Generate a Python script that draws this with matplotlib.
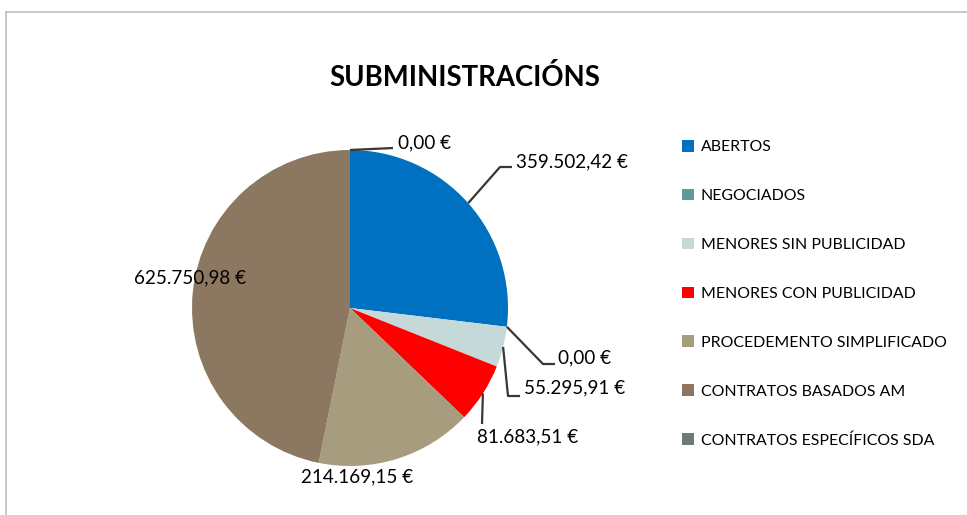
import matplotlib
matplotlib.use("Agg")
import matplotlib.pyplot as plt
from matplotlib.lines import Line2D
import numpy as np

categories = ["ABERTOS", "NEGOCIADOS", "MENORES SIN PUBLICIDAD", "MENORES CON PUBLICIDAD",
              "PROCEDEMENTO SIMPLIFICADO", "CONTRATOS BASADOS AM", "CONTRATOS ESPECÍFICOS SDA"]
values = [359502.42, 0.00, 55295.91, 81683.51, 214169.15, 625750.98, 0.00]
labels = ["359.502,42 €", "0,00 €", "55.295,91 €", "81.683,51 €",
          "214.169,15 €", "625.750,98 €", "0,00 €"]
colors = ["#0070C0", "#5F9A97", "#C4D9D8", "#FF0000", "#A89C7E", "#8C7860", "#6D7B73"]

FONT = "Lato"
W, H = 967, 515
fig = plt.figure(figsize=(W / 100, H / 100), dpi=100)

# border (top & left visible)
fig.add_artist(Line2D([6 / W, 1], [1 - 12 / H, 1 - 12 / H], transform=fig.transFigure, color="#BFBFBF", lw=1.2))
fig.add_artist(Line2D([6 / W, 6 / W], [0, 1 - 12 / H], transform=fig.transFigure, color="#BFBFBF", lw=1.2))

cx, cy, r = 350, 308, 158
ax = fig.add_axes([(cx - r) / W, (H - cy - r) / H, 2 * r / W, 2 * r / H])
wedges, _ = ax.pie(values, colors=colors, startangle=90, counterclock=False,
                   wedgeprops=dict(linewidth=0))
ax.set_xlim(-1, 1)
ax.set_ylim(-1, 1)
ax.set_aspect("equal")
ax.axis("off")

def px(x, y):
    return ((x - cx) / r, (cy - y) / r)

layout = {
    0: ((516, 162), "left", [(500, 167), (512, 167)]),
    1: ((558, 358), "left", [(543, 364), (555, 364)]),
    2: ((524, 388), "left", [(508, 396), (520, 396)]),
    3: ((477, 437), "left", [(482, 424)]),
    4: ((357, 477), "center", None),
    5: ((190, 278), "center", None),
    6: ((398, 143), "left", [(393, 148)]),
}
lc = "#3B3630"
for i, w in enumerate(wedges):
    mid = np.deg2rad((w.theta1 + w.theta2) / 2)
    p0 = (np.cos(mid), np.sin(mid))
    (tx, ty), ha, path = layout[i]
    if path:
        pts = [p0] + [px(*p) for p in path]
        xs, ys = zip(*pts)
        ax.plot(xs, ys, color=lc, lw=1.6, solid_capstyle="butt", clip_on=False)
    x, y = px(tx, ty)
    ax.text(x, y, labels[i], ha=ha, va="center", fontsize=13.6, family=FONT, color="#000000", clip_on=False)

fig.text(465 / W, 1 - 78 / H, "SUBMINISTRACIÓNS", ha="center", va="center",
         fontsize=19.8, fontweight="bold", family=FONT, color="#000000")

leg = fig.legend(wedges, categories, loc="upper left", bbox_to_anchor=(682 / W, 1 - 140 / H),
                 frameon=False, handlelength=0.75, handleheight=0.75, handletextpad=0.45,
                 labelspacing=2.18, prop=dict(family=FONT, size=11.4), borderaxespad=0, borderpad=0)
for t in leg.get_texts():
    t.set_color("#000000")

fig.savefig("out.png", dpi=100, facecolor="white")
